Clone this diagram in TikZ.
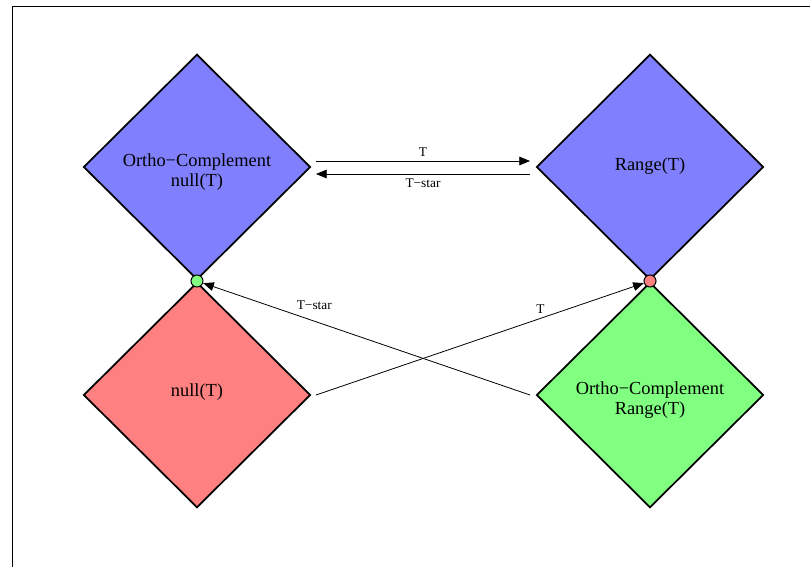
\documentclass[tikz,border=0pt]{standalone}
\usepackage{fontspec}
\setmainfont{Liberation Serif}
\usetikzlibrary{shapes.geometric,arrows.meta}
\begin{document}
\begin{tikzpicture}[x=0.75pt,y=-0.75pt,
  space/.style={diamond,draw,line width=1.3pt,minimum width=170.25pt,minimum height=169pt,inner sep=0pt},
  spacetext/.style={align=center,inner sep=0pt,font=\fontsize{13.8}{15}\selectfont},
  joint/.style={circle,draw,line width=0.8pt,minimum size=9pt,inner sep=0pt},
  map/.style={line width=0.6pt,-{Triangle[length=8pt,width=6.5pt]}},
  maplabel/.style={font=\fontsize{10}{12}\selectfont}]
\useasboundingbox (0,0) rectangle (810,567);

% Frame
\begin{scope}
\clip (0,0) rectangle (810,567);
\draw [line width=0.6pt] (12,6) rectangle (840,600);
\end{scope}

% Drawing the four spaces
\node [space,fill=blue!50,label={[spacetext,yshift=-3.5pt]center:Ortho−Complement\\null(T)}] (ocnull) at (197,167) {};
\node [space,fill=blue!50,label={[spacetext,yshift=1pt]center:Range(T)}] (range) at (650,167) {};
\node [space,fill=red!50,label={[spacetext,yshift=2pt]center:null(T)}] (null) at (197,395) {};
\node [space,fill=green!50,label={[spacetext,yshift=-3.5pt]center:Ortho−Complement\\Range(T)}] (ocrange) at (650,395) {};

% Marking the joints
\node [joint,fill=green!50] (jleft) at (197,281) {};
\node [joint,fill=red!50] (jright) at (650,281) {};

% Free ends of the maps
\coordinate (tstart) at (316,161);
\coordinate (tend) at (530,161);
\coordinate (sstart) at (530,174);
\coordinate (send) at (316,174);
\coordinate (nullout) at (316,395);
\coordinate (ocout) at (530,395);

% Drawing T and T-star
\draw [map] (tstart) -- node [maplabel,above] {T} (tend);
\draw [map] (sstart) -- node [maplabel,below] {T−star} (send);
\draw [map] (nullout) -- node [maplabel,pos=0.685,above] {T} (jright);
\draw [map] (ocout) -- node [maplabel,pos=0.66,above=5pt] {T−star} (jleft);
\end{tikzpicture}
\end{document}
